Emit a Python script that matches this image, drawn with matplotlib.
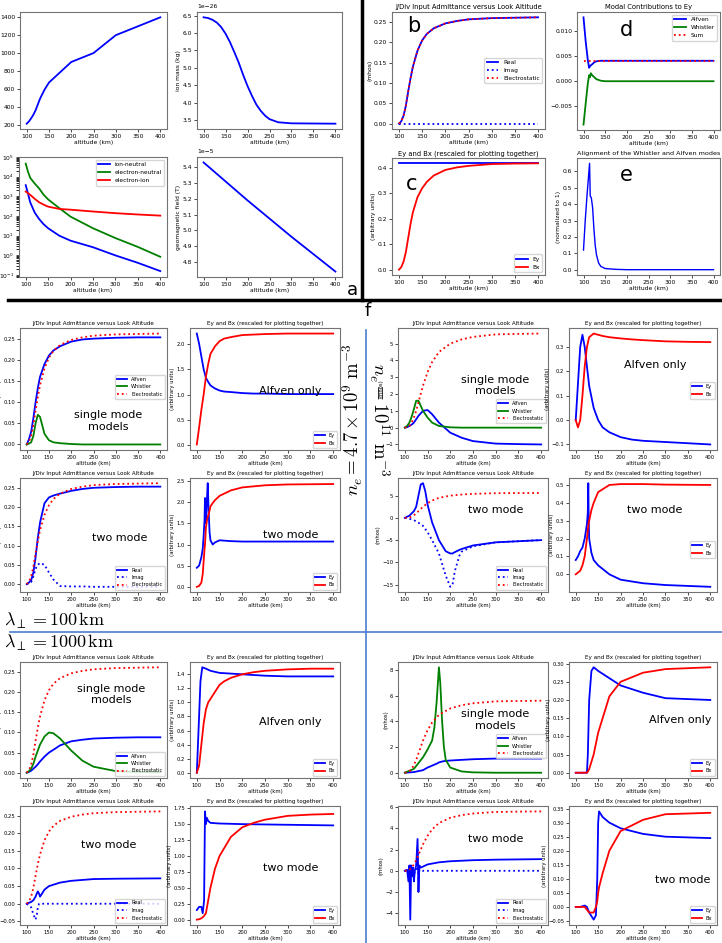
import matplotlib
matplotlib.use('Agg')
import matplotlib.pyplot as plt
from matplotlib.lines import Line2D

plt.rcParams['mathtext.fontset'] = 'cm'
plt.rcParams['xtick.labelsize'] = 4.5
plt.rcParams['ytick.labelsize'] = 4.5
plt.rcParams['axes.labelsize'] = 4.3
plt.rcParams['axes.titlesize'] = 5.0
plt.rcParams['legend.fontsize'] = 4.2
plt.rcParams['axes.edgecolor'] = '0.45'
plt.rcParams['xtick.major.size'] = 2
plt.rcParams['ytick.major.size'] = 2

W, H = 722, 943

# ---------------- panel (a): background profiles ----------------
alt_te = [100, 105, 110, 115, 120, 130, 140, 150, 200, 250, 300, 400]
te = [210, 235, 270, 310, 360, 490, 590, 670, 900, 1000, 1200, 1400]

alt_m = [100, 110, 120, 130, 140, 150, 160, 170, 180, 190, 200, 210, 220, 230, 240, 250, 270, 300, 400]
ion_mass = [6.45, 6.43, 6.38, 6.3, 6.17, 5.98, 5.74, 5.45, 5.15, 4.8, 4.48, 4.2, 3.95, 3.77, 3.63, 3.53, 3.44, 3.41, 3.4]

alt_c = [100, 105, 110, 120, 130, 140, 150, 175, 200, 250, 300, 350, 400]
nu_in = [3700, 1400, 500, 150, 70, 38, 24, 10, 5.6, 2.6, 1.0, 0.42, 0.16]
nu_en = [46000, 18000, 8700, 4500, 2500, 1200, 700, 250, 93, 24, 7.6, 2.7, 0.85]
nu_ei = [1750, 1450, 1200, 750, 500, 380, 300, 230, 210, 170, 140, 120, 105]

alt_b = [100, 200, 300, 400]
bfield = [5.43, 5.19, 4.96, 4.74]

# ---------------- panels b-e: electrostatic check ----------------
alt = [100, 105, 110, 115, 120, 125, 130, 140, 150, 160, 175, 200, 225, 250, 300, 350, 400]
es_100 = [0, 0.006, 0.02, 0.045, 0.08, 0.112, 0.14, 0.18, 0.205, 0.221, 0.235, 0.247, 0.253, 0.257, 0.26, 0.261, 0.262]
zero = [0] * len(alt)
ey_c = [0.418] * len(alt)
bx_c = [0, 0.01, 0.032, 0.07, 0.125, 0.18, 0.225, 0.285, 0.32, 0.345, 0.37, 0.392, 0.402, 0.408, 0.415, 0.417, 0.418]

alt_d = [100, 105, 110, 113, 115, 117, 120, 125, 130, 140, 150, 200, 400]
d_alfven = [0.0128, 0.008, 0.0042, 0.0027, 0.003, 0.0032, 0.0034, 0.0038, 0.004, 0.0041, 0.0041, 0.0041, 0.0041]
d_whistler = [-0.0087, -0.0045, -0.0004, 0.0012, 0.0008, 0.0016, 0.0012, 0.0008, 0.0004, 0.0001, 0.0, 0.0, 0.0]
d_sum = [0.0041] * len(alt_d)

alt_e = [100, 104, 108, 111, 114, 115.5, 118, 121, 124, 127, 130, 135, 140, 150, 175, 200, 400]
align = [0.12, 0.3, 0.45, 0.55, 0.65, 0.45, 0.44, 0.38, 0.25, 0.15, 0.09, 0.04, 0.02, 0.007, 0.002, 0.0, 0.0]

# ---------------- f: lambda = 100 km, ne = 4.7e9 ----------------
a1_alfven = [0, 0.012, 0.03, 0.062, 0.1, 0.133, 0.16, 0.19, 0.21, 0.222, 0.232, 0.243, 0.248, 0.25, 0.252, 0.253, 0.253]
a1_whistler = [0, 0.002, 0.005, 0.02, 0.05, 0.07, 0.065, 0.025, 0.01, 0.005, 0.003, 0.001, 0, 0, 0, 0, 0]
b1_ey = [2.2, 2.0, 1.75, 1.5, 1.33, 1.25, 1.18, 1.12, 1.08, 1.06, 1.05, 1.03, 1.02, 1.02, 1.01, 1.01, 1.01]
b1_bx = [0.02, 0.35, 0.7, 1.0, 1.35, 1.6, 1.8, 1.95, 2.05, 2.1, 2.13, 2.17, 2.18, 2.19, 2.2, 2.2, 2.2]
c1_real = [0, 0.004, 0.01, 0.03, 0.07, 0.12, 0.16, 0.21, 0.225, 0.23, 0.235, 0.242, 0.247, 0.25, 0.252, 0.253, 0.253]
c1_imag = [0, 0.002, 0.005, 0.02, 0.04, 0.05, 0.055, 0.05, 0.03, 0.012, -0.005, -0.006, -0.006, -0.007, -0.007, -0.007, -0.007]
alt_d1 = [100, 105, 110, 113, 115, 117, 118, 119, 120, 122, 124, 126, 128, 130, 135, 140, 150, 175, 200, 250, 300, 400]
d1_ey = [0.45, 0.5, 0.7, 0.9, 1.2, 1.6, 2.1, 1.7, 1.5, 2.0, 2.45, 1.8, 1.3, 1.1, 1.0, 1.05, 1.1, 1.08, 1.07, 1.07, 1.07, 1.07]
d1_bx = [0.0, 0.02, 0.1, 0.3, 0.6, 0.9, 1.0, 1.2, 1.4, 1.55, 1.65, 1.72, 1.8, 1.9, 1.98, 2.05, 2.15, 2.28, 2.35, 2.4, 2.42, 2.43]

# ---------------- f: lambda = 100 km, ne = 1e11 ----------------
es_11 = [0, 0.03, 0.1, 0.3, 0.6, 1.0, 1.5, 2.5, 3.3, 3.9, 4.5, 5.0, 5.25, 5.4, 5.55, 5.58, 5.6]
a2_alfven = [0, 0.03, 0.1, 0.18, 0.3, 0.5, 0.7, 1.0, 1.05, 0.8, 0.3, -0.3, -0.6, -0.8, -0.95, -0.98, -1.0]
a2_whistler = [0, 0.1, 0.3, 0.65, 1.1, 1.6, 1.6, 1.0, 0.6, 0.3, 0.1, 0.02, 0, 0, 0, 0, 0]
b2_ey = [0.0, 0.15, 0.3, 0.35, 0.3, 0.22, 0.14, 0.05, 0.0, -0.03, -0.05, -0.07, -0.08, -0.085, -0.09, -0.095, -0.1]
b2_bx = [0.0, -0.03, 0.0, 0.1, 0.22, 0.3, 0.34, 0.355, 0.35, 0.345, 0.34, 0.335, 0.331, 0.328, 0.323, 0.321, 0.32]
alt_c2 = [100, 110, 120, 125, 130, 135, 140, 145, 150, 160, 175, 190, 200, 205, 210, 220, 225, 250, 300, 400]
c2_real = [0, 0.5, 1.5, 2.5, 5, 7.5, 7.8, 6, 3, -1, -5, -7.5, -8, -8, -7.7, -7.2, -7, -6.2, -5.5, -5.0]
c2_imag = [0, -0.2, -0.5, -0.8, -1.1, -1.4, -1.8, -2.5, -3.2, -5, -8, -13, -15.5, -15, -12, -8.5, -7.6, -6.4, -5.5, -5.0]
alt_d2 = [100, 105, 110, 115, 120, 125, 127, 128, 129, 130, 135, 140, 150, 175, 200, 250, 300, 400]
d2_ey = [0.08, 0.1, 0.13, 0.15, 0.2, 0.28, 0.35, 0.51, 0.3, 0.2, 0.12, 0.08, 0.05, 0.0, -0.03, -0.05, -0.06, -0.07]
d2_bx = [0.0, 0.01, 0.02, 0.05, 0.1, 0.2, 0.25, 0.27, 0.29, 0.3, 0.36, 0.4, 0.46, 0.5, 0.505, 0.505, 0.502, 0.5]

# ---------------- f: lambda = 1000 km, ne = 4.7e9 ----------------
a3_alfven = [0, 0.002, 0.005, 0.01, 0.015, 0.021, 0.028, 0.04, 0.05, 0.057, 0.068, 0.078, 0.082, 0.085, 0.087, 0.088, 0.088]
a3_whistler = [0, 0.004, 0.01, 0.022, 0.04, 0.055, 0.07, 0.09, 0.1, 0.098, 0.085, 0.055, 0.03, 0.015, 0.004, 0.002, 0.001]
alt_b3 = [100, 105, 108, 112, 120, 130, 150, 200, 250, 300, 400]
b3_ey = [0.0, 0.8, 1.3, 1.5, 1.48, 1.45, 1.42, 1.4, 1.38, 1.37, 1.37]
b3_bx = [0.0, 0.1, 0.4, 0.7, 0.9, 1.0, 1.05, 1.15, 1.25, 1.3, 1.35, 1.4, 1.43, 1.45, 1.47, 1.48, 1.48]
alt_c3 = [100, 110, 115, 120, 123, 125, 128, 130, 135, 140, 150, 175, 200, 250, 300, 400]
c3_real = [0, 0.005, 0.01, 0.02, 0.03, 0.035, 0.028, 0.02, 0.03, 0.04, 0.05, 0.06, 0.065, 0.07, 0.071, 0.072]
c3_imag = [0, -0.01, -0.03, -0.045, -0.03, -0.01, 0.0, 0.0, 0, 0, 0, 0, 0, 0, 0, 0]
alt_d3 = [100, 105, 110, 113, 116, 118, 120, 122, 125, 130, 150, 200, 400]
d3_ey = [0.15, 0.2, 0.2, 0.1, 0.3, 1.7, 1.5, 1.6, 1.55, 1.52, 1.51, 1.5, 1.48]
d3_bx = [0.0, 0.005, 0.02, 0.05, 0.1, 0.3, 0.5, 0.8, 1.0, 1.12, 1.3, 1.45, 1.52, 1.57, 1.63, 1.65, 1.66]

# ---------------- f: lambda = 1000 km, ne = 1e11 ----------------
alt_a4 = [100, 120, 140, 150, 160, 165, 170, 175, 178, 182, 186, 190, 200, 225, 250, 300, 400]
a4_alfven = [0, 0.05, 0.2, 0.4, 0.55, 0.63, 0.7, 0.8, 0.83, 0.87, 0.9, 0.92, 0.95, 1.0, 1.05, 1.1, 1.1]
a4_whistler = [0, 0.3, 1.2, 1.8, 2.5, 3.5, 5.5, 8.2, 7.0, 4.0, 2.0, 1.0, 0.4, 0.1, 0.03, 0, 0]
alt_b4 = [100, 120, 125, 127, 130, 135, 140, 150, 175, 200, 250, 300, 400]
b4_ey = [0, 0, 0, 0.05, 0.2, 0.28, 0.29, 0.28, 0.26, 0.24, 0.22, 0.205, 0.2]
b4_bx = [0, 0, 0, 0.003, 0.01, 0.03, 0.05, 0.11, 0.21, 0.25, 0.275, 0.285, 0.29]
alt_c4 = [100, 105, 108, 110, 112, 114, 116, 118, 120, 122, 125, 128, 130, 132, 135, 140, 150, 175, 200, 250, 300, 400]
c4_real = [0, 0.1, -1, 0.5, -4.6, 0.5, -0.5, 0.3, -1, 0, 0.5, 3, -2, 0.5, 0.3, 0.4, 0.6, 0.8, 0.9, 1.0, 1.05, 1.1]
c4_imag = [0, 0, -0.3, 0.1, 0.5, -0.2, -0.5, 0.2, -0.5, 0, 0, 2, -1, 0.1, 0.1, 0, 0, 0, 0, 0, 0, 0]
alt_d4 = [100, 110, 120, 125, 130, 140, 145, 148, 150, 152, 160, 175, 200, 250, 300, 400]
d4_ey = [0, 0, 0.005, 0.0, -0.02, -0.045, -0.03, 0.1, 0.3, 0.34, 0.32, 0.3, 0.28, 0.26, 0.25, 0.245]
d4_bx = [0, 0, 0, -0.01, -0.02, -0.02, 0.0, 0.02, 0.05, 0.07, 0.12, 0.2, 0.27, 0.31, 0.33, 0.335]

fig = plt.figure(figsize=(W / 100, H / 100), dpi=100)


def box(l, t, r, b):
    return fig.add_axes([l / W, 1 - b / H, (r - l) / W, (b - t) / H])


def style(ax, xlabel=True, small=False):
    ax.set_xticks([100, 150, 200, 250, 300, 350, 400])
    ax.set_xlim(85, 415)
    fs = 3.8 if small else 4.3
    if xlabel:
        ax.set_xlabel('altitude (km)', labelpad=1, fontsize=fs)
    ax.tick_params(pad=1.5, width=0.5, labelsize=fs)
    ax.yaxis.get_offset_text().set_fontsize(fs)


LW = 1.3
SMALL_TITLE = 4.1
TITLE_ADM = 'J/Div Input Admittance versus Look Altitude'
TITLE_EB = 'Ey and Bx (rescaled for plotting together)'

# ---- a ----
ax = box(20, 12, 167, 129)
ax.plot(alt_te, te, color='blue', lw=LW)
ax.set_ylabel('Te (K)', labelpad=1)
style(ax)

ax = box(197, 12, 342, 129)
ax.plot(alt_m, [m * 1e-26 for m in ion_mass], color='blue', lw=LW)
ax.set_ylabel('ion mass (kg)', labelpad=1)
style(ax)

ax = box(19, 157, 167, 277)
ax.semilogy(alt_c, nu_in, color='blue', lw=LW, label='ion-neutral')
ax.semilogy(alt_c, nu_en, color='green', lw=LW, label='electron-neutral')
ax.semilogy(alt_c, nu_ei, color='red', lw=LW, label='electron-ion')
ax.set_ylim(0.08, 1e5)
ax.set_ylabel('collision frequency (1/s)', labelpad=1)
ax.legend(loc='upper right')
style(ax)

ax = box(197, 157, 342, 277)
ax.plot(alt_b, [v * 1e-5 for v in bfield], color='blue', lw=LW)
ax.set_ylabel('geomagnetic field (T)', labelpad=1)
style(ax)

# ---- b ----
ax = box(392, 12, 545, 129)
ax.plot(alt, es_100, color='blue', lw=LW, label='Real')
ax.plot(alt, zero, color='blue', lw=LW, ls=':', label='Imag')
ax.plot(alt, es_100, color='red', lw=LW, ls=':', label='Electrostatic')
ax.set_title(TITLE_ADM, pad=2, fontsize=4.9)
ax.set_ylabel('(mhos)', labelpad=1)
ax.legend(loc='center right')
ax.text(0.1, 0.83, 'b', transform=ax.transAxes, fontsize=15)
style(ax)

# ---- d ----
ax = box(577, 12, 720, 130)
ax.plot(alt_d, d_alfven, color='blue', lw=LW, label='Alfven')
ax.plot(alt_d, d_whistler, color='green', lw=LW, label='Whistler')
ax.plot(alt_d, d_sum, color='red', lw=LW, ls=':', label='Sum')
ax.set_title('Modal Contributions to Ey', pad=2, fontsize=4.9)
ax.set_yticks([-0.005, 0.0, 0.005, 0.010])
ax.legend(loc='upper right')
ax.text(0.3, 0.8, 'd', transform=ax.transAxes, fontsize=15)
style(ax)

# ---- c ----
ax = box(392, 158, 545, 275)
ax.plot(alt, ey_c, color='blue', lw=LW, label='Ey')
ax.plot(alt, bx_c, color='red', lw=LW, label='Bx')
ax.set_title(TITLE_EB, pad=2, fontsize=4.9)
ax.set_ylabel('(arbitrary units)', labelpad=1)
ax.legend(loc='lower right')
ax.text(0.09, 0.73, 'c', transform=ax.transAxes, fontsize=15)
style(ax)

# ---- e ----
ax = box(577, 158, 720, 275)
ax.plot(alt_e, align, color='blue', lw=1.0)
ax.set_title('Alignment of the Whistler and Alfven modes', pad=2, fontsize=4.6)
ax.set_ylabel('(normalized to 1)', labelpad=1)
ax.text(0.3, 0.8, 'e', transform=ax.transAxes, fontsize=15)
style(ax)

# ---- f: grid of 16 panels ----
cols_adm = [(20, 167), (398, 548)]
cols_eb = [(190, 340), (569, 717)]
rows = [(328, 450), (478, 592), (662, 778), (806, 925)]
NOTE = 8


def adm_single(ax, x, alfven, whistler, xes, es, note_xy, leg_anchor):
    ax.plot(x, alfven, color='blue', lw=LW, label='Alfven')
    ax.plot(x, whistler, color='green', lw=LW, label='Whistler')
    ax.plot(xes, es, color='red', lw=LW, ls=':', label='Electrostatic')
    ax.set_title(TITLE_ADM, pad=2, fontsize=SMALL_TITLE)
    ax.set_ylabel('(mhos)', labelpad=1, fontsize=3.8)
    ax.legend(loc='lower right', bbox_to_anchor=leg_anchor, fontsize=3.6)
    ax.text(*note_xy, 'single mode\nmodels', transform=ax.transAxes, fontsize=NOTE,
            ha='center', va='center', linespacing=1.2)
    style(ax, small=True)


def adm_two(ax, x, real, imag, xes, es, note_xy):
    ax.plot(x, real, color='blue', lw=LW, label='Real')
    ax.plot(x, imag, color='blue', lw=LW, ls=':', label='Imag')
    ax.plot(xes, es, color='red', lw=LW, ls=':', label='Electrostatic')
    ax.set_title(TITLE_ADM, pad=2, fontsize=SMALL_TITLE)
    ax.set_ylabel('(mhos)', labelpad=1, fontsize=3.8)
    ax.legend(loc='lower right', fontsize=3.6)
    ax.text(*note_xy, 'two mode', transform=ax.transAxes, fontsize=NOTE, ha='center', va='center')
    style(ax, small=True)


def eb(ax, xe, ey, xb, bx, note, note_xy, leg_anchor=(1, 0)):
    ax.plot(xe, ey, color='blue', lw=LW, label='Ey')
    ax.plot(xb, bx, color='red', lw=LW, label='Bx')
    ax.set_title(TITLE_EB, pad=2, fontsize=SMALL_TITLE)
    ax.set_ylabel('(arbitrary units)', labelpad=1, fontsize=3.8)
    ax.legend(loc='lower right', bbox_to_anchor=leg_anchor, fontsize=3.6)
    ax.text(*note_xy, note, transform=ax.transAxes, fontsize=NOTE, ha='center', va='center')
    style(ax, small=True)


# lambda = 100 km, ne = 4.7e9
ax = box(cols_adm[0][0], rows[0][0], cols_adm[0][1], rows[0][1])
adm_single(ax, alt, a1_alfven, a1_whistler, alt, es_100, (0.6, 0.24), (1, 0.4))
ax = box(cols_eb[0][0], rows[0][0], cols_eb[0][1], rows[0][1])
eb(ax, alt, b1_ey, alt, b1_bx, 'Alfven only', (0.67, 0.48))
ax.set_yticks([0.0, 0.5, 1.0, 1.5, 2.0])
ax = box(cols_adm[0][0], rows[1][0], cols_adm[0][1], rows[1][1])
adm_two(ax, alt, c1_real, c1_imag, alt, es_100, (0.68, 0.47))
ax = box(cols_eb[0][0], rows[1][0], cols_eb[0][1], rows[1][1])
eb(ax, alt_d1, d1_ey, alt_d1, d1_bx, 'two mode', (0.67, 0.5))

# lambda = 100 km, ne = 1e11
ax = box(cols_adm[1][0], rows[0][0], cols_adm[1][1], rows[0][1])
adm_single(ax, alt, a2_alfven, a2_whistler, alt, es_11, (0.65, 0.53), (1, 0.2))
ax = box(cols_eb[1][0], rows[0][0], cols_eb[1][1], rows[0][1])
eb(ax, alt, b2_ey, alt, b2_bx, 'Alfven only', (0.58, 0.7), (1, 0.4))
ax = box(cols_adm[1][0], rows[1][0], cols_adm[1][1], rows[1][1])
adm_two(ax, alt_c2, c2_real, c2_imag, alt, es_11, (0.65, 0.72))
ax = box(cols_eb[1][0], rows[1][0], cols_eb[1][1], rows[1][1])
eb(ax, alt_d2, d2_ey, alt_d2, d2_bx, 'two mode', (0.58, 0.72), (1, 0.28))

# lambda = 1000 km, ne = 4.7e9
ax = box(cols_adm[0][0], rows[2][0], cols_adm[0][1], rows[2][1])
adm_single(ax, alt, a3_alfven, a3_whistler, alt, es_100, (0.62, 0.72), (1, 0))
ax = box(cols_eb[0][0], rows[2][0], cols_eb[0][1], rows[2][1])
eb(ax, alt_b3, b3_ey, alt, b3_bx, 'Alfven only', (0.67, 0.48))
ax = box(cols_adm[0][0], rows[3][0], cols_adm[0][1], rows[3][1])
adm_two(ax, alt_c3, c3_real, c3_imag, alt, es_100, (0.6, 0.67))
ax = box(cols_eb[0][0], rows[3][0], cols_eb[0][1], rows[3][1])
eb(ax, alt_d3, d3_ey, alt, d3_bx, 'two mode', (0.67, 0.48))

# lambda = 1000 km, ne = 1e11
ax = box(cols_adm[1][0], rows[2][0], cols_adm[1][1], rows[2][1])
adm_single(ax, alt_a4, a4_alfven, a4_whistler, alt, es_11, (0.65, 0.5), (1, 0.15))
ax = box(cols_eb[1][0], rows[2][0], cols_eb[1][1], rows[2][1])
eb(ax, alt_b4, b4_ey, alt_b4, b4_bx, 'Alfven only', (0.75, 0.5))
ax = box(cols_adm[1][0], rows[3][0], cols_adm[1][1], rows[3][1])
adm_two(ax, alt_c4, c4_real, c4_imag, alt, es_11, (0.65, 0.72))
ax = box(cols_eb[1][0], rows[3][0], cols_eb[1][1], rows[3][1])
eb(ax, alt_d4, d4_ey, alt_d4, d4_bx, 'two mode', (0.77, 0.38))

# ---- separators and labels ----
def hline(x0, x1, y, color, lw):
    fig.add_artist(Line2D([x0 / W, x1 / W], [1 - y / H, 1 - y / H], color=color, lw=lw))


def vline(x, y0, y1, color, lw):
    fig.add_artist(Line2D([x / W, x / W], [1 - y0 / H, 1 - y1 / H], color=color, lw=lw))


vline(362, 0, 300, 'black', 2.5)
hline(8, 722, 300, 'black', 2.5)
vline(366, 330, 943, '#4a7fd0', 1.2)
hline(10, 722, 632, '#4a7fd0', 1.2)

fig.text(352 / W, 1 - 290 / H, 'a', fontsize=13, ha='center', va='center')
fig.text(368 / W, 1 - 311 / H, 'f', fontsize=13, ha='center', va='center')
fig.text(353 / W, 1 - 420 / H, r'$n_e = 4.7\times10^{9}\ \mathrm{m}^{-3}$', fontsize=13.5,
         rotation=90, ha='center', va='center')
fig.text(379 / W, 1 - 420 / H, r'$n_e = 10^{11}\ \mathrm{m}^{-3}$', fontsize=13.5,
         rotation=270, ha='center', va='center')
fig.text(4 / W, 1 - 621 / H, r'$\lambda_\perp = 100\,\mathrm{km}$', fontsize=13, ha='left', va='center')
fig.text(4 / W, 1 - 643 / H, r'$\lambda_\perp = 1000\,\mathrm{km}$', fontsize=13, ha='left', va='center')

fig.savefig('out.png', dpi=100)
